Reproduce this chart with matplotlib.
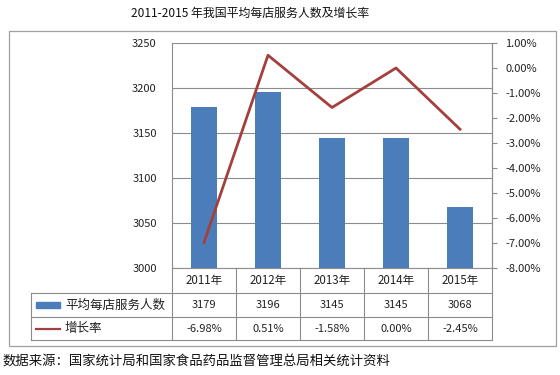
import matplotlib
matplotlib.use('Agg')
import matplotlib.pyplot as plt
import matplotlib.transforms as mtransforms
from matplotlib.patches import Rectangle
from matplotlib.lines import Line2D

plt.rcParams['font.family'] = ['Noto Sans CJK SC', 'DejaVu Sans']

# data
years = ['2011年', '2012年', '2013年', '2014年', '2015年']
people = [3179, 3196, 3145, 3145, 3068]
growth = [-6.98, 0.51, -1.58, 0.00, -2.45]
bar_label = '平均每店服务人数'
line_label = '增长率'
title = '2011-2015 年我国平均每店服务人数及增长率'
source = '数据来源：国家统计局和国家食品药品监督管理总局相关统计资料'

W, H = 560, 375
bar_color = '#4A7DBA'
line_color = '#A3403D'
grid_color = '#8C8C8C'
text_color = '#222222'


# pixel -> figure fraction
def fx(px):
    return px / W


def fy(py):
    return 1 - py / H


fig = plt.figure(figsize=(W / 100, H / 100), dpi=100)

left, right, top, bottom = 172, 492, 43, 268
ax = fig.add_axes([fx(left), fy(bottom), fx(right - left), fy(top) - fy(bottom)])

x = list(range(len(years)))
ax.bar(x, people, width=0.4, color=bar_color, zorder=3)
ax.set_xlim(-0.5, len(years) - 0.5)
ax.set_ylim(3000, 3250)
ax.set_yticks(range(3000, 3251, 50))
ax.yaxis.grid(True, color=grid_color, lw=0.8)
ax.set_axisbelow(True)
ax.set_xticks([])
ax.tick_params(axis='y', length=0, pad=11, labelsize=8, colors=text_color)
for s in ['top', 'bottom']:
    ax.spines[s].set_visible(False)
for s in ['left', 'right']:
    ax.spines[s].set_color(grid_color)
    ax.spines[s].set_linewidth(0.8)

ax2 = ax.twinx()
ax2.plot(x, growth, color=line_color, lw=2, zorder=4)
ax2.set_ylim(-8, 1)
ax2.set_yticks(range(-8, 2))
ax2.set_yticklabels(['%.2f%%' % v for v in range(-8, 2)])
ax2.tick_params(axis='y', length=3.5, width=0.8, color=grid_color, pad=6,
                labelsize=8, labelcolor=text_color)
for s in ['top', 'bottom', 'left']:
    ax2.spines[s].set_visible(False)
ax2.spines['right'].set_color(grid_color)
ax2.spines['right'].set_linewidth(0.8)

# outer frame
fig.add_artist(Rectangle((fx(9), fy(346)), fx(556 - 9), fy(31) - fy(346),
                         transform=fig.transFigure, fill=False,
                         edgecolor='#A0A0A0', lw=0.9))

# data table under the chart
rows = [bottom, 293, 317, 340]
tl = dict(color=grid_color, lw=0.8, transform=fig.transFigure)
fig.add_artist(Line2D([fx(left), fx(right)], [fy(rows[0])] * 2, **tl))
for r in rows[1:]:
    fig.add_artist(Line2D([fx(31), fx(right)], [fy(r)] * 2, **tl))
fig.add_artist(Line2D([fx(31), fx(31)], [fy(rows[1]), fy(rows[3])], **tl))
bt = mtransforms.blended_transform_factory(ax.transData, fig.transFigure)
for i in range(len(years) + 1):
    fig.add_artist(Line2D([i - 0.5, i - 0.5], [fy(rows[0]), fy(rows[3])],
                          color=grid_color, lw=0.8, transform=bt))

mid = [(rows[i] + rows[i + 1]) / 2 for i in range(3)]
for i, yr in enumerate(years):
    ax.text(i, fy(mid[0]), yr, transform=bt, ha='center', va='center',
            fontsize=8.3, color=text_color)
    ax.text(i, fy(mid[1]), str(people[i]), transform=bt, ha='center',
            va='center', fontsize=8, color=text_color)
    ax.text(i, fy(mid[2]), '%.2f%%' % growth[i], transform=bt, ha='center',
            va='center', fontsize=8, color=text_color)

# legend keys in the row labels
fig.add_artist(Rectangle((fx(36), fy(mid[1] + 3)), fx(24), fy(mid[1] - 3) - fy(mid[1] + 3),
                         transform=fig.transFigure, color=bar_color))
fig.add_artist(Line2D([fx(36), fx(60)], [fy(mid[2])] * 2, color=line_color,
                      lw=1.6, transform=fig.transFigure))
fig.text(fx(65), fy(mid[1]), bar_label, ha='left', va='center', fontsize=9,
         color=text_color)
fig.text(fx(65), fy(mid[2]), line_label, ha='left', va='center', fontsize=9,
         color=text_color)

fig.text(fx(250), fy(13), title, ha='center', va='center', fontsize=8.6,
         color='#111111')
fig.text(fx(3), fy(362), source, ha='left', va='center', fontsize=9.6,
         color='#111111')

plt.savefig('out.png', dpi=100)
plt.close()
